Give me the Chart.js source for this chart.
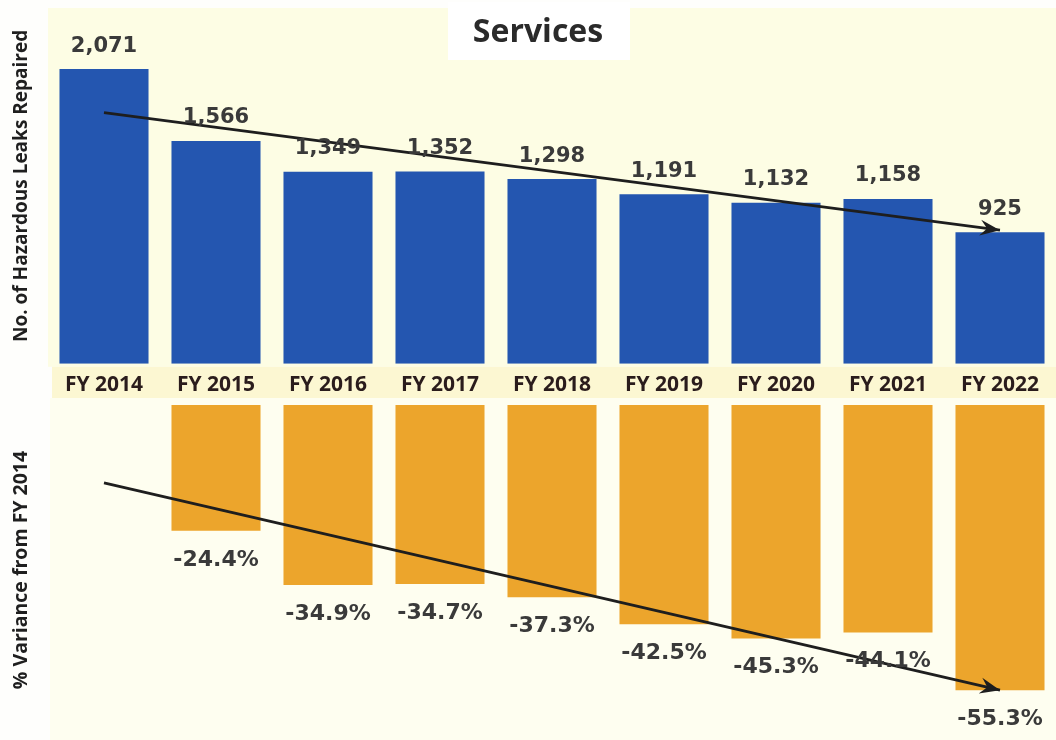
<!DOCTYPE html>
<html>
<head>
<meta charset="utf-8">
<script src="https://cdn.jsdelivr.net/npm/chart.js@4.4.1/dist/chart.umd.min.js"></script>
<style>
  html, body { margin: 0; padding: 0; background: #fefefc; }
  #wrap { position: relative; width: 1056px; height: 740px; overflow: hidden; }
  #chartLeaks { position: absolute; left: 0; top: 0; }
  #chartVariance { position: absolute; left: 0; top: 398px; }
</style>
</head>
<body>
<div id="wrap">
  <canvas id="chartLeaks" width="1056" height="403"></canvas>
  <canvas id="chartVariance" width="1056" height="342"></canvas>
</div>
<script>
// ===== Data =====
const years = ["FY 2014","FY 2015","FY 2016","FY 2017","FY 2018","FY 2019","FY 2020","FY 2021","FY 2022"];
const leaksRepaired = [2071, 1566, 1349, 1352, 1298, 1191, 1132, 1158, 925];
const varianceFrom2014 = [null, -24.4, -34.9, -34.7, -37.3, -42.5, -45.3, -44.1, -55.3];
// trend arrows: start on first year, end on last year
const leaksTrend = [1765, null, null, null, null, null, null, null, 939];
const varianceTrend = [-15.1, null, null, null, null, null, null, null, -55.3];

const chartTitle = "Services";
const leaksAxisTitle = "No. of Hazardous Leaks Repaired";
const varianceAxisTitle = "% Variance from FY 2014";

// ===== Colors / fonts =====
const BLUE = "#2456b0";
const ORANGE = "#eca52c";
const INK = "#3a3a3a";
const AXIS_FONT = "Open Sans";
const VALUE_FONT = "DejaVu Sans";

// ===== Plugins =====
const panelBg = {
  id: "panelBg",
  beforeDraw(chart, args, opts){
    const {ctx, chartArea:a} = chart;
    ctx.save();
    if(opts.kind === "top"){
      ctx.fillStyle = "#fdfde4";
      ctx.fillRect(a.left, a.top, a.right - a.left, a.bottom - a.top + 3);
      ctx.fillStyle = "#fcf7d2";
      ctx.fillRect(a.left + 4, a.bottom + 3, a.right - a.left - 4, 32);
      // white box behind the heading
      ctx.fillStyle = "#ffffff";
      ctx.fillRect(448, 2, 182, 58);
      ctx.fillStyle = "#2a2a2a";
      ctx.font = `bold 32px "${AXIS_FONT}"`;
      ctx.textAlign = "center";
      ctx.textBaseline = "middle";
      ctx.fillText(chartTitle, 538, 33);
    } else {
      ctx.fillStyle = "#fefef0";
      ctx.fillRect(a.left + 2, 0, a.right - a.left, chart.height);
    }
    ctx.restore();
  }
};

const valueLabels = {
  id: "valueLabels",
  afterDatasetsDraw(chart, args, opts){
    const {ctx} = chart;
    const meta = chart.getDatasetMeta(0);
    const data = chart.data.datasets[0].data;
    ctx.save();
    ctx.fillStyle = INK;
    ctx.font = `bold ${opts.size}px "${VALUE_FONT}"`;
    ctx.textAlign = "center";
    ctx.textBaseline = "middle";
    meta.data.forEach((el, i)=>{
      const v = data[i];
      if(v === null || v === undefined) return;
      const txt = opts.format(v);
      const y = v >= 0 ? el.y - opts.gap : el.y + opts.gap;
      ctx.fillText(txt, el.x, y);
    });
    ctx.restore();
  }
};

const arrowHead = {
  id: "arrowHead",
  afterDatasetsDraw(chart){
    const {ctx} = chart;
    chart.data.datasets.forEach((ds, di)=>{
      if(ds.type !== "line") return;
      const pts = chart.getDatasetMeta(di).data.filter((p, i)=>ds.data[i] !== null);
      if(pts.length < 2) return;
      const a = pts[pts.length-2], b = pts[pts.length-1];
      const ang = Math.atan2(b.y - a.y, b.x - a.x);
      const len = 20, half = 8, notch = 13;
      ctx.save();
      ctx.translate(b.x, b.y);
      ctx.rotate(ang);
      ctx.fillStyle = "#1e1e1e";
      ctx.beginPath();
      ctx.moveTo(0, 0);
      ctx.lineTo(-len, -half);
      ctx.lineTo(-notch, 0);
      ctx.lineTo(-len, half);
      ctx.closePath();
      ctx.fill();
      ctx.restore();
    });
  }
};

function yAxis(title, min, max, size){
  return {
    min, max,
    ticks: { display: false },
    grid: { display: false },
    border: { display: false },
    title: {
      display: true,
      text: title,
      color: "#1f1f1f",
      font: { family: AXIS_FONT, size, weight: "bold" },
      padding: { top: 10, bottom: 0 }
    },
    afterFit(axis){ axis.width = 48; }
  };
}

function trendLine(data){
  return {
    type: "line",
    data,
    order: 0,
    spanGaps: true,
    borderColor: "#1e1e1e",
    borderWidth: 2.8,
    pointRadius: 0,
    fill: false
  };
}

// ===== Top chart: leaks repaired =====
new Chart(document.getElementById("chartLeaks"), {
  type: "bar",
  data: {
    labels: years,
    datasets: [
      { type: "bar", data: leaksRepaired, backgroundColor: BLUE, order: 1,
        categoryPercentage: 1, barPercentage: 0.795 },
      trendLine(leaksTrend)
    ]
  },
  options: {
    responsive: false,
    animation: false,
    layout: { padding: { top: 8, right: 0, bottom: 4, left: 0 } },
    plugins: {
      legend: { display: false },
      tooltip: { enabled: false },
      panelBg: { kind: "top" },
      valueLabels: { size: 21, gap: 23, format: v => v.toLocaleString("en-US") }
    },
    scales: {
      x: {
        grid: { display: false },
        border: { display: false },
        ticks: { color: "#2a1c1c", padding: 1, font: { family: AXIS_FONT, size: 21, weight: "bold" } }
      },
      y: yAxis(leaksAxisTitle, 0, 2500, 19)
    }
  },
  plugins: [panelBg, valueLabels, arrowHead]
});

// ===== Bottom chart: % variance from FY 2014 =====
new Chart(document.getElementById("chartVariance"), {
  type: "bar",
  data: {
    labels: years,
    datasets: [
      { type: "bar", data: varianceFrom2014, backgroundColor: ORANGE, order: 1,
        categoryPercentage: 1, barPercentage: 0.795 },
      trendLine(varianceTrend)
    ]
  },
  options: {
    responsive: false,
    animation: false,
    layout: { padding: { top: 7, right: 0, bottom: 5, left: 0 } },
    plugins: {
      legend: { display: false },
      tooltip: { enabled: false },
      panelBg: { kind: "bottom" },
      valueLabels: { size: 22, gap: 29, format: v => v.toFixed(1) + "%" }
    },
    scales: {
      x: { display: false },
      y: yAxis(varianceAxisTitle, -64, 0, 19.5)
    }
  },
  plugins: [panelBg, valueLabels, arrowHead]
});
</script>
</body>
</html>
